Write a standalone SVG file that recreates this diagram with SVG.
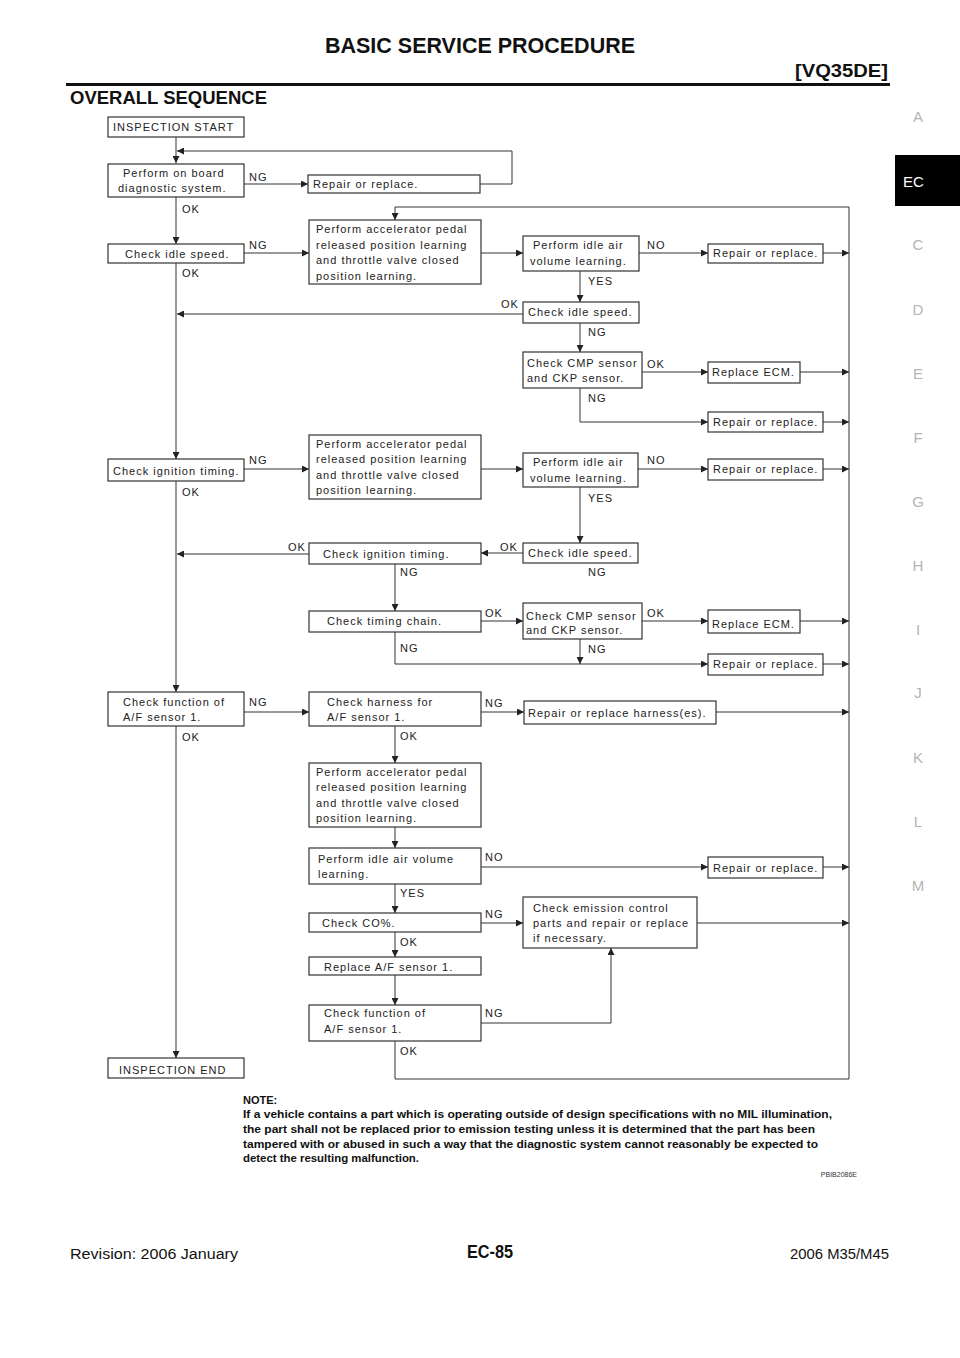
<svg xmlns="http://www.w3.org/2000/svg" width="960" height="1358" viewBox="0 0 960 1358">
<defs>
<marker id="ah" markerUnits="userSpaceOnUse" markerWidth="7" markerHeight="7" refX="7" refY="3.5" orient="auto">
<path d="M0,0 L7,3.5 L0,7 z" fill="#222"/>
</marker>
<style>
.bx{fill:#fff;stroke:#333;stroke-width:1.2}
.t{font-family:"Liberation Sans",Arial,sans-serif;font-size:11px;letter-spacing:1px;fill:#222}
.c{fill:none;stroke:#333;stroke-width:1}
.a{marker-end:url(#ah)}
.tab{font-family:"Liberation Sans",Arial,sans-serif;font-size:15px;fill:#b4b4b4;text-anchor:middle}
.hd{font-family:"Liberation Sans",Arial,sans-serif;font-weight:bold;fill:#111}
.nt{font-family:"Liberation Sans",Arial,sans-serif;font-weight:bold;font-size:11px;fill:#111}
.ft{font-family:"Liberation Sans",Arial,sans-serif;font-size:14px;fill:#111}
</style>
</defs>
<rect width="960" height="1358" fill="#fff"/>
<g id="header">
<text class="hd" x="325" y="53" font-size="22" textLength="310" lengthAdjust="spacingAndGlyphs">BASIC SERVICE PROCEDURE</text>
<text class="hd" x="795" y="77" font-size="19" textLength="93" lengthAdjust="spacingAndGlyphs">[VQ35DE]</text>
<rect x="66" y="83" width="824" height="3" fill="#111"/>
<text class="hd" x="70" y="104" font-size="18" textLength="197" lengthAdjust="spacingAndGlyphs">OVERALL SEQUENCE</text>
</g>
<g id="tabs">
<text class="tab" x="918" y="122">A</text>
<rect x="895" y="155" width="65" height="51" fill="#000"/>
<text x="903" y="187" font-family="Liberation Sans,Arial,sans-serif" font-size="15" fill="#fff">EC</text>
<text class="tab" x="918" y="250">C</text>
<text class="tab" x="918" y="315">D</text>
<text class="tab" x="918" y="379">E</text>
<text class="tab" x="918" y="443">F</text>
<text class="tab" x="918" y="507">G</text>
<text class="tab" x="918" y="571">H</text>
<text class="tab" x="918" y="635">I</text>
<text class="tab" x="918" y="698">J</text>
<text class="tab" x="918" y="763">K</text>
<text class="tab" x="918" y="827">L</text>
<text class="tab" x="918" y="891">M</text>
</g>
<g id="connectors">
<path class="c a" d="M176,137 V163"/>
<path class="c a" d="M480,184 H512 V151 H177"/>
<path class="c a" d="M244,184 H308"/>
<path class="c a" d="M176,197 V244"/>
<path class="c a" d="M244,253 H309"/>
<path class="c a" d="M395,1041 V1079 H849 V207 H395 V220"/>
<path class="c a" d="M481,253 H523"/>
<path class="c a" d="M639,253 H708"/>
<path class="c a" d="M823,253 H849"/>
<path class="c a" d="M580,271 V302"/>
<path class="c a" d="M523,314 H177"/>
<path class="c a" d="M580,323 V352"/>
<path class="c a" d="M642,372 H708"/>
<path class="c a" d="M800,372 H849"/>
<path class="c a" d="M580,388 V422 H708"/>
<path class="c a" d="M823,422 H849"/>
<path class="c a" d="M176,263 V459"/>
<path class="c a" d="M244,469 H309"/>
<path class="c a" d="M481,469 H523"/>
<path class="c a" d="M638,469 H708"/>
<path class="c a" d="M823,469 H849"/>
<path class="c a" d="M580,487 V543"/>
<path class="c a" d="M523,553 H481"/>
<path class="c a" d="M309,554 H177"/>
<path class="c a" d="M395,564 V611"/>
<path class="c a" d="M481,621 H523"/>
<path class="c a" d="M642,621 H708"/>
<path class="c a" d="M800,621 H849"/>
<path class="c a" d="M395,632 V664 H708"/>
<path class="c a" d="M580,639 V664"/>
<path class="c a" d="M823,664 H849"/>
<path class="c a" d="M176,481 V692"/>
<path class="c a" d="M244,712 H309"/>
<path class="c a" d="M481,712 H524"/>
<path class="c a" d="M716,712 H849"/>
<path class="c a" d="M176,726 V1058"/>
<path class="c a" d="M395,726 V763"/>
<path class="c a" d="M395,827 V848"/>
<path class="c a" d="M481,867 H708"/>
<path class="c a" d="M823,867 H849"/>
<path class="c a" d="M395,884 V913"/>
<path class="c a" d="M481,923 H523"/>
<path class="c a" d="M697,923 H849"/>
<path class="c a" d="M395,932 V957"/>
<path class="c a" d="M395,975 V1005"/>
<path class="c a" d="M481,1023 H611 V948"/>
</g>
<g id="labels">
<text class="t" x="249" y="181">NG</text>
<text class="t" x="182" y="213">OK</text>
<text class="t" x="249" y="249">NG</text>
<text class="t" x="182" y="277">OK</text>
<text class="t" x="647" y="249">NO</text>
<text class="t" x="588" y="285">YES</text>
<text class="t" x="501" y="308">OK</text>
<text class="t" x="588" y="336">NG</text>
<text class="t" x="647" y="368">OK</text>
<text class="t" x="588" y="402">NG</text>
<text class="t" x="249" y="464">NG</text>
<text class="t" x="182" y="496">OK</text>
<text class="t" x="647" y="464">NO</text>
<text class="t" x="588" y="502">YES</text>
<text class="t" x="500" y="551">OK</text>
<text class="t" x="288" y="551">OK</text>
<text class="t" x="400" y="576">NG</text>
<text class="t" x="588" y="576">NG</text>
<text class="t" x="485" y="617">OK</text>
<text class="t" x="647" y="617">OK</text>
<text class="t" x="400" y="652">NG</text>
<text class="t" x="588" y="653">NG</text>
<text class="t" x="249" y="706">NG</text>
<text class="t" x="485" y="707">NG</text>
<text class="t" x="182" y="741">OK</text>
<text class="t" x="400" y="740">OK</text>
<text class="t" x="485" y="861">NO</text>
<text class="t" x="400" y="897">YES</text>
<text class="t" x="485" y="918">NG</text>
<text class="t" x="400" y="946">OK</text>
<text class="t" x="485" y="1017">NG</text>
<text class="t" x="400" y="1055">OK</text>
</g>
<g id="n_start"><rect class="bx" x="108" y="117" width="136" height="20"/><text class="t" x="113" y="131">INSPECTION START</text></g>
<g id="n_obd"><rect class="bx" x="108" y="164" width="136" height="33"/><text class="t" x="123" y="177">Perform on board</text><text class="t" x="118" y="192">diagnostic system.</text></g>
<g id="n_rep1"><rect class="bx" x="308" y="175" width="172" height="18"/><text class="t" x="313" y="188">Repair or replace.</text></g>
<g id="n_idle1"><rect class="bx" x="108" y="244" width="136" height="19"/><text class="t" x="125" y="258">Check idle speed.</text></g>
<g id="n_acc1"><rect class="bx" x="309" y="220" width="172" height="64"/><text class="t" x="316" y="233">Perform accelerator pedal</text><text class="t" x="316" y="249">released position learning</text><text class="t" x="316" y="264">and throttle valve closed</text><text class="t" x="316" y="280">position learning.</text></g>
<g id="n_air1"><rect class="bx" x="523" y="236" width="116" height="35"/><text class="t" x="533" y="249">Perform idle air</text><text class="t" x="530" y="265">volume learning.</text></g>
<g id="n_rep2"><rect class="bx" x="708" y="244" width="115" height="19"/><text class="t" x="713" y="257">Repair or replace.</text></g>
<g id="n_idle2"><rect class="bx" x="523" y="302" width="116" height="21"/><text class="t" x="528" y="316">Check idle speed.</text></g>
<g id="n_cmp1"><rect class="bx" x="523" y="352" width="119" height="36"/><text class="t" x="527" y="367">Check CMP sensor</text><text class="t" x="527" y="382">and CKP sensor.</text></g>
<g id="n_ecm1"><rect class="bx" x="708" y="362" width="92" height="21"/><text class="t" x="712" y="376">Replace ECM.</text></g>
<g id="n_rep3"><rect class="bx" x="708" y="412" width="115" height="20"/><text class="t" x="713" y="426">Repair or replace.</text></g>
<g id="n_ign1"><rect class="bx" x="108" y="459" width="136" height="22"/><text class="t" x="113" y="475">Check ignition timing.</text></g>
<g id="n_acc2"><rect class="bx" x="309" y="435" width="172" height="64"/><text class="t" x="316" y="448">Perform accelerator pedal</text><text class="t" x="316" y="463">released position learning</text><text class="t" x="316" y="479">and throttle valve closed</text><text class="t" x="316" y="494">position learning.</text></g>
<g id="n_air2"><rect class="bx" x="523" y="453" width="115" height="34"/><text class="t" x="533" y="466">Perform idle air</text><text class="t" x="530" y="482">volume learning.</text></g>
<g id="n_rep4"><rect class="bx" x="708" y="459" width="115" height="21"/><text class="t" x="713" y="473">Repair or replace.</text></g>
<g id="n_idle3"><rect class="bx" x="523" y="543" width="115" height="20"/><text class="t" x="528" y="557">Check idle speed.</text></g>
<g id="n_ign2"><rect class="bx" x="309" y="543" width="172" height="21"/><text class="t" x="323" y="558">Check ignition timing.</text></g>
<g id="n_chain"><rect class="bx" x="309" y="611" width="172" height="21"/><text class="t" x="327" y="625">Check timing chain.</text></g>
<g id="n_cmp2"><rect class="bx" x="523" y="603" width="119" height="36"/><text class="t" x="526" y="620">Check CMP sensor</text><text class="t" x="526" y="634">and CKP sensor.</text></g>
<g id="n_ecm2"><rect class="bx" x="708" y="610" width="92" height="23"/><text class="t" x="712" y="628">Replace ECM.</text></g>
<g id="n_rep5"><rect class="bx" x="708" y="654" width="115" height="21"/><text class="t" x="713" y="668">Repair or replace.</text></g>
<g id="n_af1"><rect class="bx" x="108" y="692" width="136" height="34"/><text class="t" x="123" y="706">Check function of</text><text class="t" x="123" y="721">A/F sensor 1.</text></g>
<g id="n_harn"><rect class="bx" x="309" y="692" width="172" height="34"/><text class="t" x="327" y="706">Check harness for</text><text class="t" x="327" y="721">A/F sensor 1.</text></g>
<g id="n_reph"><rect class="bx" x="524" y="701" width="192" height="23"/><text class="t" x="528" y="717">Repair or replace harness(es).</text></g>
<g id="n_acc3"><rect class="bx" x="309" y="763" width="172" height="64"/><text class="t" x="316" y="776">Perform accelerator pedal</text><text class="t" x="316" y="791">released position learning</text><text class="t" x="316" y="807">and throttle valve closed</text><text class="t" x="316" y="822">position learning.</text></g>
<g id="n_air3"><rect class="bx" x="309" y="848" width="172" height="36"/><text class="t" x="318" y="863">Perform idle air volume</text><text class="t" x="318" y="878">learning.</text></g>
<g id="n_rep6"><rect class="bx" x="708" y="857" width="115" height="21"/><text class="t" x="713" y="872">Repair or replace.</text></g>
<g id="n_co"><rect class="bx" x="309" y="913" width="172" height="19"/><text class="t" x="322" y="927">Check CO%.</text></g>
<g id="n_emis"><rect class="bx" x="523" y="897" width="174" height="51"/><text class="t" x="533" y="912">Check emission control</text><text class="t" x="533" y="927">parts and repair or replace</text><text class="t" x="533" y="942">if necessary.</text></g>
<g id="n_repaf"><rect class="bx" x="309" y="957" width="172" height="18"/><text class="t" x="324" y="971">Replace A/F sensor 1.</text></g>
<g id="n_af2"><rect class="bx" x="309" y="1005" width="172" height="36"/><text class="t" x="324" y="1017">Check function of</text><text class="t" x="324" y="1033">A/F sensor 1.</text></g>
<g id="n_end"><rect class="bx" x="108" y="1058" width="136" height="20"/><text class="t" x="119" y="1074">INSPECTION END</text></g>
<g id="note">
<text class="nt" x="243" y="1104">NOTE:</text>
<text class="nt" x="243" y="1118" textLength="589" lengthAdjust="spacingAndGlyphs">If a vehicle contains a part which is operating outside of design specifications with no MIL illumination,</text>
<text class="nt" x="243" y="1133" textLength="572" lengthAdjust="spacingAndGlyphs">the part shall not be replaced prior to emission testing unless it is determined that the part has been</text>
<text class="nt" x="243" y="1148" textLength="575" lengthAdjust="spacingAndGlyphs">tampered with or abused in such a way that the diagnostic system cannot reasonably be expected to</text>
<text class="nt" x="243" y="1162" textLength="176" lengthAdjust="spacingAndGlyphs">detect the resulting malfunction.</text>
<text x="857" y="1177" text-anchor="end" font-family="Liberation Sans,Arial,sans-serif" font-size="7" fill="#333">PBIB2086E</text>
</g>
<g id="footer">
<text class="ft" x="70" y="1259" textLength="168" lengthAdjust="spacingAndGlyphs">Revision: 2006 January</text>
<text class="hd" x="467" y="1258" font-size="18" textLength="46" lengthAdjust="spacingAndGlyphs">EC-85</text>
<text class="ft" x="790" y="1259" textLength="99" lengthAdjust="spacingAndGlyphs">2006 M35/M45</text>
</g>
</svg>
